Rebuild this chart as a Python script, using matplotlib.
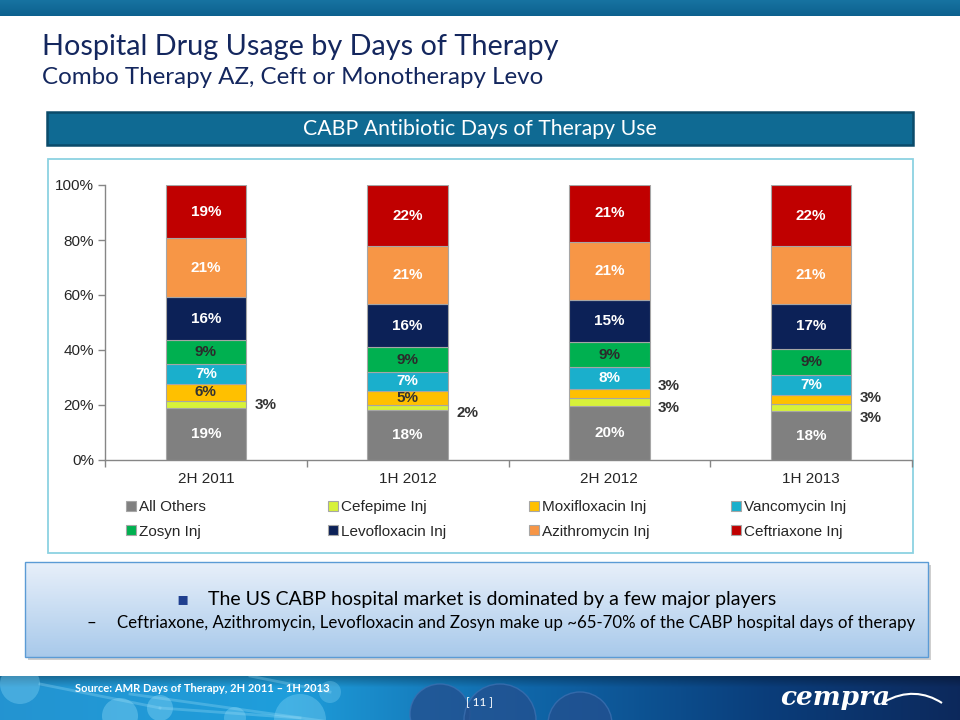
import numpy as np
import matplotlib
matplotlib.use("Agg")
import matplotlib.pyplot as plt
from matplotlib.patches import Rectangle, Circle
from matplotlib.path import Path
from matplotlib.patches import PathPatch
from matplotlib.legend import Legend

# ---------------- data ----------------
categories = ["2H 2011", "1H 2012", "2H 2012", "1H 2013"]
series_names = ["All Others", "Cefepime Inj", "Moxifloxacin Inj", "Vancomycin Inj",
                "Zosyn Inj", "Levofloxacin Inj", "Azithromycin Inj", "Ceftriaxone Inj"]
all_others = [19.0, 18.3, 19.8, 17.8]
cefepime = [2.6, 1.6, 2.7, 2.6]
moxifloxacin = [6.0, 5.3, 3.2, 3.2]
vancomycin = [7.3, 6.8, 8.2, 7.3]
zosyn = [8.7, 9.0, 8.9, 9.4]
levofloxacin = [15.6, 15.7, 15.3, 16.6]
azithromycin = [21.4, 21.1, 21.3, 20.8]
ceftriaxone = [19.4, 22.2, 20.6, 22.3]
y_ticks = [0, 20, 40, 60, 80, 100]

series_values = [all_others, cefepime, moxifloxacin, vancomycin,
                 zosyn, levofloxacin, azithromycin, ceftriaxone]

# ---------------- styles ----------------
colors = ["#808080", "#D7F23A", "#FFC000", "#1AAFCC",
          "#00B050", "#0C2157", "#F79646", "#C00000"]
label_colors = ["white", "#333333", "#333333", "white",
                "#2B2B2B", "white", "white", "white"]
# vertical nudges (pixels, + = up) for labels placed outside the bars
outside_nudge = {(1, 0): -1, (1, 1): -5.5, (2, 2): 8, (1, 2): -6, (2, 3): 1.5, (1, 3): -10.5}

W, H = 960, 720
fig = plt.figure(figsize=(9.6, 7.2), dpi=100)

# ---------------- slide background ----------------
bg = fig.add_axes([0, 0, 1, 1], zorder=0)
bg.axis("off")

# top band
top = np.linspace(0, 1, 16)[:, None, None]
c1 = np.array([0.09, 0.45, 0.63]); c2 = np.array([0.05, 0.38, 0.56])
band = np.repeat(c1 * (1 - top) + c2 * top, 2, axis=1)
bg.imshow(band, extent=(0, W, 16, 0), aspect="auto", interpolation="bilinear", zorder=1)

# titles
title_font = ["Lato", "DejaVu Sans"]
bg.text(42, 47, "Hospital Drug Usage by Days of Therapy", fontsize=20.8,
        color="#14275E", family=title_font, va="center", ha="left", zorder=5)
bg.text(42, 78, "Combo Therapy AZ, Ceft or Monotherapy Levo", fontsize=17.4,
        color="#14275E", family=title_font, va="center", ha="left", zorder=5)

# header box
bg.add_patch(Rectangle((47, 112), 866, 33, fc="#0F6A93", ec="#0A4B6A", lw=1.8, zorder=2))
bg.text(480, 129, "CABP Antibiotic Days of Therapy Use", fontsize=15.3,
        color="white", family=title_font, ha="center", va="center", zorder=5)

# chart panel
bg.add_patch(Rectangle((48, 159), 865, 394, fc="white", ec="#8CD2E2", lw=1.3, zorder=2))

# text box with gradient and soft shadow
bg.add_patch(Rectangle((28, 565), 903, 95, fc="#B0B0B0", ec="none", alpha=0.6, zorder=1))
g = np.linspace(0, 1, 100)[:, None, None]
top_c = np.array([0.91, 0.94, 0.98]); bot_c = np.array([0.66, 0.79, 0.92])
grad = np.repeat(top_c * (1 - g) + bot_c * g, 2, axis=1)
bg.imshow(grad, extent=(25, 928, 657, 562), aspect="auto", interpolation="bilinear", zorder=2)
bg.add_patch(Rectangle((25, 562), 903, 95, fc="none", ec="#5B9BD5", lw=1.0, zorder=3))
bg.text(182, 599, "\u25aa", fontsize=13, color="#1F3F8F", ha="center", va="center",
        family=["DejaVu Sans"], zorder=5)
bg.text(208, 600, "The US CABP hospital market is dominated by a few major players",
        fontsize=14.05, color="black", family=title_font, ha="left", va="center", zorder=5)
bg.text(91, 623, "\u2013", fontsize=12.2, color="black", family=title_font,
        ha="center", va="center", zorder=5)
bg.text(117, 623, "Ceftriaxone, Azithromycin, Levofloxacin and Zosyn make up ~65-70% of the CABP hospital days of therapy",
        fontsize=12.2, color="black", family=title_font, ha="left", va="center", zorder=5)

# footer band
xs = np.linspace(0, 1, 480)
stops_x = [0.0, 0.3, 0.55, 0.8, 1.0]
stops_c = np.array([[0.14, 0.58, 0.82], [0.12, 0.62, 0.86], [0.06, 0.40, 0.66],
                    [0.04, 0.24, 0.48], [0.05, 0.16, 0.36]])
row = np.stack([np.interp(xs, stops_x, stops_c[:, k]) for k in range(3)], axis=-1)
ys = np.linspace(0, 1, 44)[:, None, None]
foot = row[None, :, :] * (0.72 + 0.28 * np.clip(ys * 4, 0, 1))
bg.imshow(np.clip(foot, 0, 1), extent=(0, W, 720, 676), aspect="auto",
          interpolation="bilinear", zorder=1)
footer_clip = Rectangle((0, 676), W, 44, transform=bg.transData)
deco = []
for (cx, cy, r, a) in [(20, 684, 20, 0.35), (120, 716, 18, 0.4), (160, 708, 13, 0.4),
                       (300, 720, 26, 0.35), (330, 692, 11, 0.3), (235, 718, 11, 0.35)]:
    deco.append(bg.add_patch(Circle((cx, cy), r, fc="#8AD8F7", ec="none", alpha=a, zorder=2)))
for (x0, y0, x1, y1) in [(40, 684, 160, 708), (160, 708, 300, 718), (130, 694, 330, 722),
                         (250, 676, 330, 692)]:
    deco += bg.plot([x0, x1], [y0, y1], color="#9FE0F8", lw=2, alpha=0.3, zorder=2)
for (cx, cy, r) in [(440, 714, 30), (500, 720, 36), (580, 724, 32)]:
    deco.append(bg.add_patch(Circle((cx, cy), r, fc="#23508F", ec="#3B6FB0", lw=1,
                                    alpha=0.8, zorder=2)))
for a in deco:
    a.set_clip_path(footer_clip)
bg.text(75, 688, "Source: AMR Days of Therapy, 2H 2011 \u2013 1H 2013", fontsize=8,
        color="white", family=title_font, fontweight="bold", ha="left", va="center", zorder=5)
bg.text(480, 703, "[ 11 ]", fontsize=8.5, color="white", family=title_font,
        ha="center", va="center", zorder=5)
bg.text(835, 698, "cempra", fontsize=19, color="white", family=["DejaVu Serif"],
        fontweight="bold", fontstyle="italic", ha="center", va="center", zorder=5)
sw = Path([(884, 702), (905, 690), (925, 692), (942, 703)],
          [Path.MOVETO, Path.CURVE4, Path.CURVE4, Path.CURVE4])
bg.add_patch(PathPatch(sw, fc="none", ec="white", lw=1.5, zorder=5))

bg.set_xlim(0, W)
bg.set_ylim(H, 0)

# ---------------- chart ----------------
ax_l, ax_r, ax_t, ax_b = 105, 912, 185, 460
ax = fig.add_axes([ax_l / W, 1 - ax_b / H, (ax_r - ax_l) / W, (ax_b - ax_t) / H], zorder=2)
ax.patch.set_alpha(0)
chart_font = "Liberation Sans"

x = np.arange(len(categories))
bar_w = 0.4
bottom = np.zeros(len(categories))
handles = []
for si, (name, vals) in enumerate(zip(series_names, series_values)):
    vals = np.array(vals, dtype=float)
    b = ax.bar(x, vals, bar_w, bottom=bottom, color=colors[si], edgecolor="#A6A6A6",
               linewidth=0.8, label=name, zorder=3)
    handles.append(b)
    for ci, v in enumerate(vals):
        txt = f"{v:.0f}%"
        yc = bottom[ci] + v / 2
        if v < 4:
            dy = outside_nudge.get((si, ci), 0) * 0.72
            ax.annotate(txt, xy=(x[ci] + bar_w / 2, yc), xytext=(6, dy),
                        textcoords="offset points", ha="left", va="center",
                        fontsize=11, fontweight="bold", color="#333333",
                        family=chart_font, zorder=4)
        else:
            ax.text(x[ci], yc, txt, ha="center", va="center", fontsize=11,
                    fontweight="bold", color=label_colors[si], family=chart_font, zorder=4)
    bottom += vals

ax.set_xlim(-0.5, len(categories) - 0.5)
ax.set_ylim(0, 100)
ax.set_yticks(y_ticks)
ax.set_yticklabels([f"{t}%" for t in y_ticks], fontsize=11, family=chart_font,
                   color="#262626")
ax.set_xticks(x)
ax.set_xticklabels(categories, fontsize=11, family=chart_font, color="#262626")
ax.set_xticks(np.arange(-0.5, len(categories)), minor=True)
ax.tick_params(axis="x", which="major", length=0, pad=9)
ax.tick_params(axis="x", which="minor", length=5, width=1, color="#868686", direction="out")
ax.tick_params(axis="y", length=5, width=1, color="#868686", direction="out", pad=3)
for s in ["top", "right"]:
    ax.spines[s].set_visible(False)
for s in ["left", "bottom"]:
    ax.spines[s].set_color("#868686")
    ax.spines[s].set_linewidth(1)

# legend: four columns, two rows (row-major order)
legend_y = (ax_b - 500) / (ax_b - ax_t)
for col in range(4):
    hs = [handles[col], handles[col + 4]]
    lg = Legend(ax, hs, [series_names[col], series_names[col + 4]],
                loc="upper left", bbox_to_anchor=(0.026 + 0.25 * col, legend_y),
                frameon=False, borderpad=0, borderaxespad=0, handlelength=0.65,
                handleheight=0.65, handletextpad=0.2, labelspacing=0.7,
                prop={"family": chart_font, "size": 11})
    for t in lg.get_texts():
        t.set_color("#262626")
    ax.add_artist(lg)

fig.savefig("out.png", dpi=100)
